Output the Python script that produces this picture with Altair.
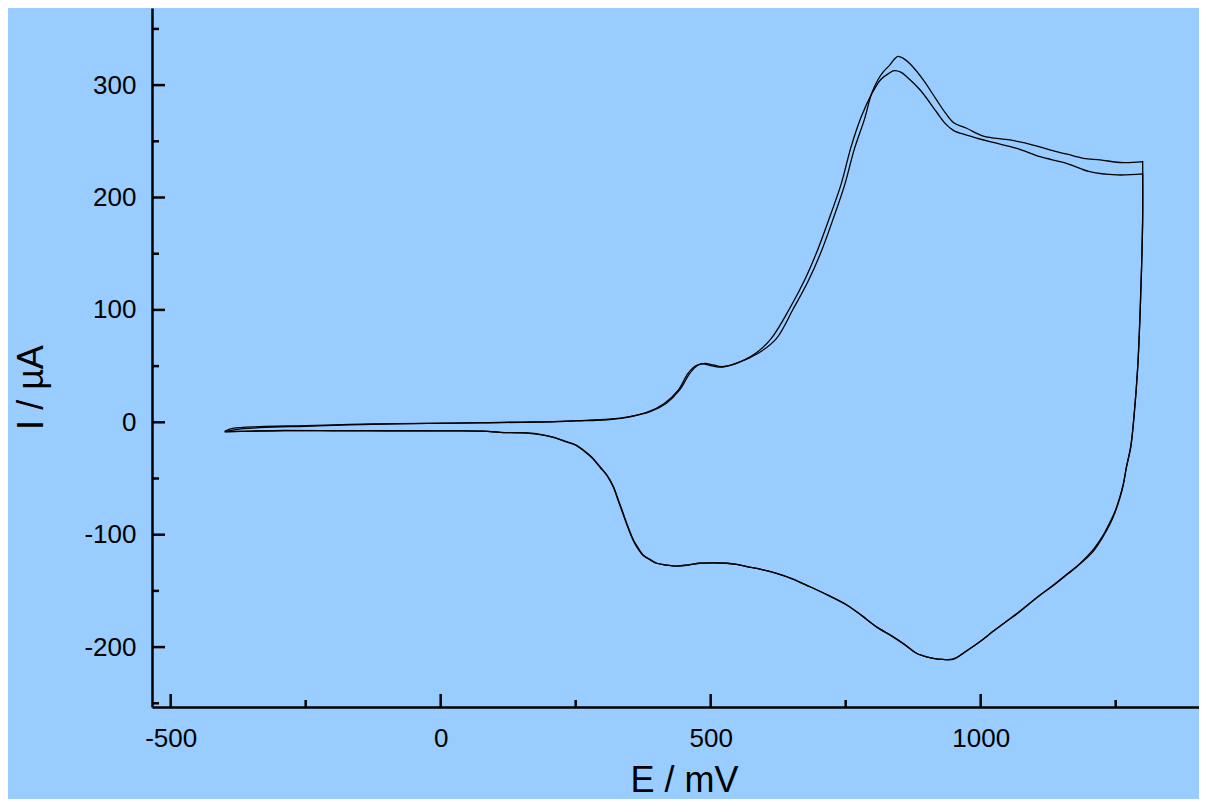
import altair as alt
import pandas as pd

# ---- data (E in mV, I in µA) ----
# cycle A (lower anodic peak)
E_fwd_A = [-400, -380, -335, -250, -168, -80, 0, 79, 150, 202, 252, 313, 350, 384, 414, 440,
           458, 473, 485, 500, 516, 544, 582, 612, 648, 674, 698, 723, 742, 760, 779, 798,
           815, 830, 840, 852, 863, 888, 918, 935, 950, 974, 1017, 1067, 1110, 1159, 1202, 1252, 1300]
I_fwd_A = [-8.5, -6.5, -4.8, -3.5, -2.3, -1.4, -0.9, -0.5, 0.0, 0.4, 1.2, 2.5, 4.8, 9.2, 16.8, 28.6,
           43.5, 50.5, 52.0, 50.5, 49.0, 52.0, 61.0, 74.5, 102.8, 126.6, 153.3, 186, 212.6, 245, 272, 292,
           305, 310.5, 312.8, 311.5, 307.5, 295.6, 276.3, 265.5, 259.5, 255.5, 249.7, 243.8, 236.3, 230.4, 223, 220.1, 221]

E_rev_A = [1300, 1300, 1298, 1295, 1291, 1284, 1278, 1270, 1264, 1258, 1249, 1239, 1225, 1208, 1184,
           1160, 1134, 1112, 1091, 1070, 1048, 1023, 999, 975, 949, 930, 912, 895, 881, 860, 835, 807,
           780, 752, 718, 684, 650, 622, 595, 567, 548, 530, 505, 480, 458, 437, 418, 400, 388, 375,
           366, 357, 347, 338, 329, 320, 308, 295, 280, 264, 250, 233, 210, 184, 160, 140, 110, 79,
           0, -100, -200, -291, -350, -400]
I_rev_A = [221, 183, 138, 94, 50, 5, -22, -40, -56, -67, -80, -91, -103, -115, -126,
           -135.5, -145.5, -153, -161, -169.5, -177, -186, -195, -203, -211, -211, -210, -208, -205.5, -198, -190, -182,
           -172, -162.5, -154, -146.3, -139, -134.4, -131, -128.4, -126.5, -125.4, -125, -125.4, -127, -127.9, -127, -125.4, -122.5, -118.5,
           -113, -105.5, -94, -82, -70, -58, -47.5, -40, -31.5, -25, -20.3, -17.4, -13.7, -10.9, -9.6, -9.3, -9.0, -7.9,
           -7.7, -7.6, -7.5, -7.4, -7.9, -8.4]

# cycle B (higher anodic peak)
E_fwd_B = [-400, -385, -335, -250, -168, -80, 0, 79, 150, 202, 252, 313, 350, 388, 418, 443,
           462, 477, 489, 505, 520, 548, 588, 622, 653, 680, 704, 729, 748, 766, 785, 798,
           810, 820, 832, 840, 847, 856, 869, 894, 918, 935, 950, 974, 1005, 1054, 1097, 1128, 1160, 1190, 1221, 1264, 1300]
I_fwd_B = [-8, -5.5, -3.9, -3, -1.8, -1.2, -0.8, -0.3, 0.2, 0.5, 1.4, 2.7, 5, 9.4, 17, 29,
           44, 51, 52.5, 51, 49.5, 52.5, 61.4, 74.7, 101, 125, 151, 184, 211, 243, 270, 292.5,
           305, 312, 318, 323, 325.5, 324, 319, 304.5, 287, 275, 266.5, 261.6, 254.7, 251.2, 246.7, 242.3, 238.5, 234.9, 233.4, 231, 232]

E_rev_B = [1300, 1300, 1298, 1295, 1291, 1284, 1278, 1270, 1264, 1258, 1249, 1239, 1225, 1208, 1184,
           1160, 1134, 1112, 1091, 1070, 1048, 1023, 999, 975, 949, 930, 912, 895, 881, 860, 835, 807,
           780, 752, 718, 684, 650, 622, 595, 567, 548, 530, 505, 480, 458, 437, 418, 400, 388, 375,
           366, 357, 347, 338, 329, 320, 308, 295, 280, 264, 250, 233, 210, 184, 160, 140, 110, 79,
           0, -100, -200, -291, -350, -400]
I_rev_B = [232, 183, 139, 95, 51, 6, -21, -39.5, -55, -66, -79, -89.5, -102, -113.5, -125.5,
           -135, -145, -153, -161, -169, -177, -186, -195, -203, -210.5, -211, -210, -208, -205.5, -198, -190, -182,
           -172, -162.5, -154, -146.3, -139, -134.4, -131, -128.4, -126.5, -125.4, -125, -125.4, -127, -127.9, -127, -125.4, -122, -118,
           -112, -104.7, -93, -81, -69, -57.3, -47, -39.5, -31, -24.6, -20, -17.2, -13.5, -10.7, -9.5, -9.2, -8.9, -7.8,
           -7.6, -7.5, -7.4, -7.3, -7.8, -8.3]

x_major = [-500, 0, 500, 1000]
x_minor = [-250, 250, 750, 1250]
y_major = [-200, -100, 0, 100, 200, 300]
y_minor = [-250, -150, -50, 50, 150, 250, 350]

X_DOMAIN = [-534.6, 1404.3]
Y_DOMAIN = [-253.3, 368.6]
W, H = 1047, 699
FONT = "Liberation Sans"

rows = []
for name, E, I in [("A", E_fwd_A + E_rev_A, I_fwd_A + I_rev_A),
                   ("B", E_fwd_B + E_rev_B, I_fwd_B + I_rev_B)]:
    for k, (e, i) in enumerate(zip(E, I)):
        rows.append({"cycle": name, "idx": k, "E": e, "I": i})
df = pd.DataFrame(rows)

xscale = alt.Scale(domain=X_DOMAIN, nice=False, zero=False)
yscale = alt.Scale(domain=Y_DOMAIN, nice=False, zero=False)

xaxis = alt.Axis(values=x_major, title="E / mV", grid=False, ticks=False, tickSize=0,
                 domainColor="black", domainWidth=2.5, labelFont=FONT, labelFontSize=26,
                 labelColor="black", labelPadding=39, labelBaseline="alphabetic",
                 labelFlush=False, labelOverlap=False, labelExpr="'' + datum.value",
                 titleFont=FONT, titleFontSize=36,
                 titleFontWeight="normal", titleColor="black", titleX=532, titleY=84,
                 titleAlign="center", titleBaseline="alphabetic")
yaxis = alt.Axis(values=y_major, title="I / µA", grid=False, ticks=False, tickSize=0,
                 domainColor="black", domainWidth=2.5, labelFont=FONT, labelFontSize=26,
                 labelColor="black", labelPadding=16, labelAlign="right", labelBaseline="middle",
                 labelFlush=False, labelOverlap=False, labelExpr="'' + datum.value",
                 titleFont=FONT, titleFontSize=36,
                 titleFontWeight="normal", titleColor="black", titleAngle=270, titleX=-110,
                 titleY=379, titleAlign="center", titleBaseline="alphabetic")

lines = alt.Chart(df).mark_line(color="black", strokeWidth=1.3, interpolate="catmull-rom").encode(
    x=alt.X("E:Q", scale=xscale, axis=xaxis),
    y=alt.Y("I:Q", scale=yscale, axis=yaxis),
    detail="cycle:N",
    order="idx:Q",
)

def xticks(vals, length):
    return alt.Chart(pd.DataFrame({"E": vals})).mark_rule(color="black", strokeWidth=2.5).encode(
        x=alt.X("E:Q", scale=xscale, axis=xaxis),
        y=alt.value(H), y2=alt.value(H - length))

def yticks(vals, length):
    return alt.Chart(pd.DataFrame({"I": vals})).mark_rule(color="black", strokeWidth=2.5).encode(
        y=alt.Y("I:Q", scale=yscale, axis=yaxis),
        x=alt.value(0), x2=alt.value(length))

chart = alt.layer(
    lines,
    xticks(x_major, 13), xticks(x_minor, 7),
    yticks(y_major, 13), yticks(y_minor, 7),
).properties(
    width=W, height=H,
    padding={"left": 144, "top": 0, "right": 0, "bottom": 92},
    autosize=alt.AutoSizeParams(type="none"),
    background="#99CCFF",
).configure_view(stroke=None)

chart.save("out.html", embed_options={"renderer": "svg", "actions": False})
